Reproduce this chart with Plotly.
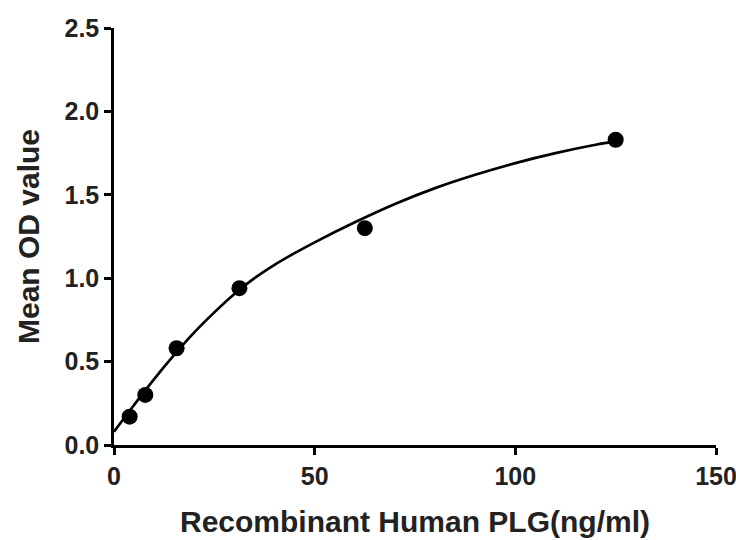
import plotly.graph_objects as go

# Measured points
conc = [3.9, 7.8, 15.6, 31.25, 62.5, 125]
od = [0.17, 0.30, 0.58, 0.94, 1.30, 1.83]

# Fitted curve
curve_x = [0, 5, 10, 15, 20, 25, 30, 35, 40, 45, 50, 60, 70, 80, 90, 100, 110, 120, 125]
curve_y = [0.08, 0.24, 0.395, 0.54, 0.675, 0.795, 0.905, 1.0, 1.08, 1.15, 1.215, 1.335,
           1.445, 1.54, 1.62, 1.69, 1.75, 1.80, 1.82]

x_ticks = [0, 50, 100, 150]
y_ticks = [0.0, 0.5, 1.0, 1.5, 2.0, 2.5]

fig = go.Figure()
fig.add_trace(go.Scatter(x=curve_x, y=curve_y, mode="lines",
                         line=dict(color="black", width=2.7, shape="spline", smoothing=1),
                         showlegend=False, hoverinfo="skip"))
fig.add_trace(go.Scatter(x=conc, y=od, mode="markers", marker=dict(color="black", size=16),
                         showlegend=False))

font_family = "Liberation Sans, Arial, sans-serif"
txt_color = "#222222"
fig.update_layout(
    width=736, height=540,
    margin=dict(l=114, r=20, t=28, b=95),
    plot_bgcolor="white", paper_bgcolor="white",
    font=dict(family=font_family, color=txt_color),
    xaxis=dict(range=[0, 150], tickvals=x_ticks, showgrid=False, zeroline=False,
               showline=True, linecolor="black", linewidth=2.5, automargin=False,
               ticks="outside", ticklen=7, tickwidth=2.5, tickcolor="black",
               ticklabeloverflow="allow",
               tickfont=dict(size=25, family=font_family, weight="bold", color=txt_color),
               title=dict(text="Recombinant Human PLG(ng/ml)", standoff=23,
                          font=dict(size=30, family=font_family, weight="bold", color=txt_color))),
    yaxis=dict(range=[0, 2.5], tickvals=y_ticks, tickformat=".1f", showgrid=False, zeroline=False,
               showline=True, linecolor="black", linewidth=2.5, automargin=False,
               ticks="outside", ticklen=7, tickwidth=2.5, tickcolor="black",
               ticklabeloverflow="allow",
               tickfont=dict(size=25, family=font_family, weight="bold", color=txt_color),
               title=dict(text="Mean OD value", standoff=16,
                          font=dict(size=30, family=font_family, weight="bold", color=txt_color))),
)

fig.write_html("out.html", config={"displayModeBar": False},
               post_script="document.body.style.margin='0';document.body.style.overflow='hidden';")
